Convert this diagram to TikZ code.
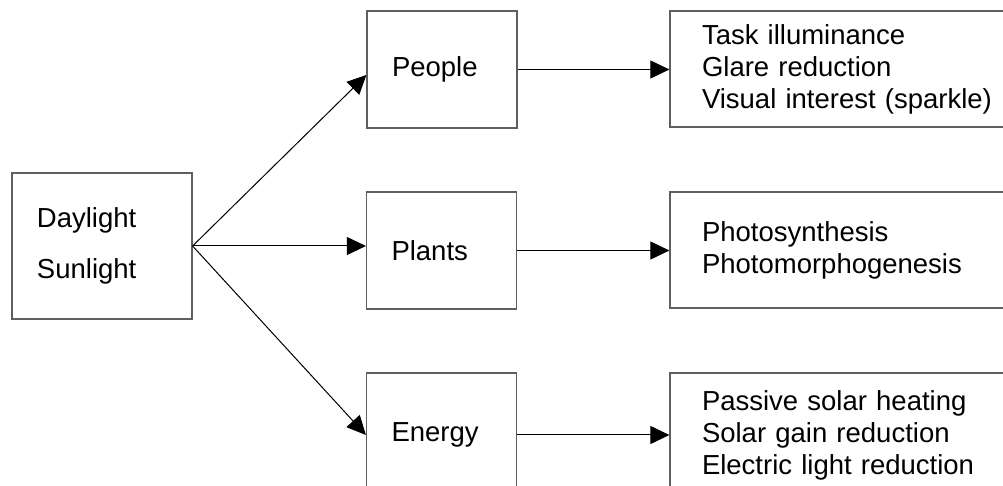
\documentclass[tikz,border=0pt]{standalone}
\usepackage{fontspec}
\setmainfont{Liberation Sans}
\definecolor{framegray}{HTML}{5F5F5F}
\usetikzlibrary{arrows.meta}
\tikzset{
  box/.style={
    draw=framegray, line width=0.6pt, inner ysep=0pt, inner xsep=12.5pt,
    align=left, text=black, font=\fontsize{13.75}{16}\selectfont
  },
  wbox/.style={box, inner xsep=16pt, text width=153pt, minimum height=58pt},
  arr/.style={-{Triangle[length=9.5pt,width=9pt]}, line width=0.5pt, black},
}

\begin{document}
\begin{tikzpicture}[x=0.5pt, y=-0.5pt]
  \useasboundingbox (0,0) rectangle (1003,486);
  % Source
  \node[box, text width=65pt, minimum height=73pt] (light) at (102,246)
    {Daylight\\[9.5pt]Sunlight};

  % Receivers
  \node[box, text width=50pt, minimum height=58.5pt] (people) at (442,69.5) {People};
  \node[box, text width=50pt, minimum height=58.5pt] (plants) at (441.5,250.5) {Plants};
  \node[box, text width=50pt, minimum height=62pt] (energy) at (441.5,435) {Energy};

  % Effects
  \node[wbox] (task) at (855,69)
    {Task illuminance\\Glare reduction\\Visual interest (sparkle)};
  \node[wbox] (photo) at (855,250)
    {Photosynthesis\\Photomorphogenesis};
  \node[wbox, minimum height=62pt] (passive) at (855,435)
    {Passive solar heating\\Solar gain reduction\\Electric light reduction};

  \draw[arr] (light.east) -- ([yshift=-2.75pt]people.west);
  \draw[arr] (light.east) -- (light.east -| plants.west);
  \draw[arr] (light.east) -- (energy.west);
  \draw[arr] (people.east) -- (people.east -| task.west);
  \draw[arr] (plants.east) -- (plants.east -| photo.west);
  \draw[arr] (energy.east) -- (passive.west);
\end{tikzpicture}
\end{document}
